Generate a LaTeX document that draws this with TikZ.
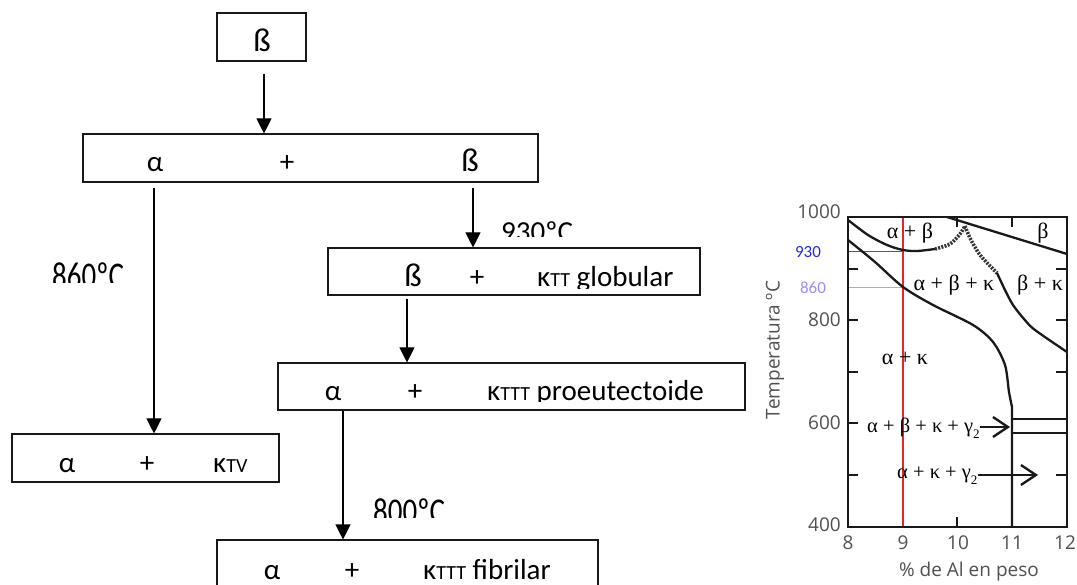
\documentclass[tikz,border=0pt]{standalone}
\usepackage{fontspec}
\setmainfont{Carlito}
\newfontfamily\grserif{Liberation Serif}
\newfontfamily\axsans{Open Sans}
\usetikzlibrary{arrows.meta,calc}
\newcommand{\smc}[1]{{\fontsize{20}{20}\selectfont #1}}
\newcommand{\subtwo}{\raisebox{-0.3em}{\fontsize{13}{13}\selectfont 2}}
\definecolor{axgray}{RGB}{80,80,80}
\definecolor{redline}{RGB}{225,40,40}
\definecolor{blueline}{RGB}{70,70,255}
\definecolor{bluetxt}{RGB}{40,40,220}
\definecolor{lavline}{RGB}{170,165,250}
\definecolor{lavtxt}{RGB}{160,140,240}
\begin{document}
\begin{tikzpicture}[x=1pt,y=-1pt,
  box/.style={draw=black!90, line width=1.1pt, inner sep=0pt},
  txt/.style={font=\fontsize{29}{29}\selectfont, inner sep=0pt},
  btxt/.style={font=\fontsize{33}{33}\selectfont, inner sep=0pt},
  arr/.style={line width=1.1pt, -{Triangle[length=15pt,width=15pt]}},
  pline/.style={line width=2.3pt, black!90},
  pdot/.style={line width=3.6pt, black!80, dash pattern=on 2pt off 1.3pt},
  ptick/.style={line width=2pt, black!90},
  plab/.style={font=\grserif\fontsize{22}{22}\selectfont, inner sep=0pt},
  plabs/.style={font=\grserif\fontsize{20.5}{20.5}\selectfont, inner sep=0pt},
  axnum/.style={font=\axsans\fontsize{19}{19}\selectfont, text=axgray, inner sep=0pt},
  parr/.style={line width=2.3pt, black!90, -{Straight Barb[length=15pt,width=20pt,line width=2.3pt]}}]
\useasboundingbox (0,0) rectangle (1077,585);
\clip (0,0) rectangle (1077,585);

% ---------- flowchart boxes ----------
\node[box, minimum width=89pt, minimum height=48pt] (b1) at (261.5,37) {};
\node[box, minimum width=455pt, minimum height=48pt] (b2) at (310.5,158) {};
\node[box, minimum width=372pt, minimum height=47pt] (b3) at (514,271.5) {};
\node[box, minimum width=467pt, minimum height=47pt] (b4) at (511.5,386.5) {};
\node[box, minimum width=267pt, minimum height=48pt] (b5) at (145.5,458) {};
\node[box, minimum width=381pt, minimum height=50pt] (b6) at (407.5,565) {};

% ---------- box texts ----------
\node[btxt, anchor=base] (t1) at (262,52) {ß};
\node[txt, anchor=base] (t2a) at (155,172) {α};
\node[txt, anchor=base] (t2p) at (287,172) {+};
\node[btxt, anchor=base] (t2b) at (470,172) {ß};
\node[btxt, anchor=base] (t3b) at (413,287) {ß};
\node[txt, anchor=base] (t3p) at (477,287) {+};
\begin{scope}
  \clip (530,230) rectangle (700,288.5);
  \node[txt, anchor=base west] (t3k) at (537,287) {κ\smc{TT} globular};
\end{scope}
\node[txt, anchor=base] (t4a) at (333,400) {α};
\node[txt, anchor=base] (t4p) at (415,400) {+};
\begin{scope}
  \clip (480,345) rectangle (744,401.5);
  \node[txt, anchor=base west] (t4k) at (487,400) {κ\smc{TTT} proeutectoide};
\end{scope}
\node[txt, anchor=base] (t5a) at (67,472) {α};
\node[txt, anchor=base] (t5p) at (147,472) {+};
\node[txt, anchor=base west] (t5k) at (213,472) {κ\smc{TV}};
\node[txt, anchor=base] (t6a) at (272,579) {α};
\node[txt, anchor=base] (t6p) at (352,579) {+};
\node[txt, anchor=base west] (t6k) at (423,579) {κ\smc{TTT} fibrilar};

% ---------- temperature labels (clipped) ----------
\begin{scope}
  \clip (495,210) rectangle (590,237);
  \node[txt, anchor=base west] (l930) at (501,242) {930ºC};
\end{scope}
\begin{scope}
  \clip (45,250) rectangle (135,283);
  \node[txt, anchor=base west, yscale=1.3] (l860) at (52,289) {860ºC};
\end{scope}
\begin{scope}
  \clip (365,485) rectangle (455,517);
  \node[txt, anchor=base west, yscale=1.25] (l800) at (373,523) {800ºC};
\end{scope}

% ---------- connectors ----------
\draw[arr] ($(b1.south)+(2.5,12)$) -- ($(b1.south |- b2.north)+(2.5,0)$);
\draw[arr] ($(t2a |- b2.south)+(-1,5)$) -- ($(t2a |- b5.north)+(-1,0)$);
\draw[arr] ($(t2b |- b2.south)+(3,5)$) -- ($(t2b |- b3.north)+(3,0)$);
\draw[arr] ($(t3b |- b3.south)+(-6,3)$) -- ($(t3b |- b4.north)+(-6,0)$);
\draw[arr] ($(t4a |- b4.south)+(10,0)$) -- ($(t4a |- b6.north)+(10,0)$);

% ---------- phase diagram ----------
\draw[redline, line width=1.2pt] (903,217) -- (903,527);
\draw[blueline, line width=1pt] (848,252) -- (903,252);
\draw[lavline, line width=1pt] (848,288) -- (903,288);

\draw[pline] plot[smooth] coordinates {(848,220) (868,235) (887,245) (903,250) (917,251) (935,249)};
\draw[pdot] plot[smooth] coordinates {(935,249) (950,244) (960,234) (965,226)};
\draw[pdot] plot[smooth] coordinates {(965,226) (970,238) (980,255) (997,273)};
\draw[pline] plot[smooth] coordinates {(997,273) (1005,290) (1013,305) (1024,319) (1035,330) (1067,352)};
\draw[pline] (947,217) -- (1067,254);
\draw[pline] plot[smooth] coordinates {(848,240) (875,262) (903,287) (933,305) (973,325) (993,342) (1005,365) (1009,392) (1012,407)} -- (1012,527);
\draw[pline] (1012,419) -- (1067,419);
\draw[pline] (1012,433) -- (1067,433);

\foreach \yy in {269,320,372,423,475} {\draw[ptick] (848,\yy) -- (858,\yy);}
\foreach \yy in {269,320,372,475} {\draw[ptick] (1067,\yy) -- (1056,\yy);}
\foreach \xx in {957,1012} {\draw[ptick] (\xx,217) -- (\xx,227);}
\foreach \xx in {957} {\draw[ptick] (\xx,527) -- (\xx,517);}
\draw[line width=2.2pt, black!90] (848,217) rectangle (1067,527);

% phase labels
\node[plab] (p1) at (910,233) {α + β};
\node[plab] (p2) at (1043,233) {β};
\node[plab] (p3) at (954,285) {α + β + κ};
\node[plab] (p4) at (1040,285) {β + κ};
\node[plab] (p5) at (905,358) {α + κ};
\node[plabs, anchor=west] (p6) at (867,428) {α + β + κ + γ\subtwo};
\node[plabs, anchor=west] (p7) at (897,476) {α + κ + γ\subtwo};
\coordinate (a6) at (1010,427);
\coordinate (a7) at (1038,475);
\draw[parr] (p6.east |- a6) -- (a6);
\draw[parr] (p7.east |- a7) -- (a7);

% axis numbers
\node[axnum, anchor=east] (y1000) at (841,212) {1000};
\node[axnum, anchor=east] (y800) at (841,320) {800};
\node[axnum, anchor=east] (y600) at (841,423) {600};
\node[axnum, anchor=east] (y400) at (841,525) {400};
\node[axnum] (x8) at (848,543) {8};
\node[axnum] (x9) at (903,543) {9};
\node[axnum] (x10) at (958,543) {10};
\node[axnum] (x11) at (1012,543) {11};
\node[axnum] (x12) at (1065,543) {12};
\node[axnum] (xlab) at (969,572) {\% de Al en peso};
\node[axnum, rotate=90] (ylab) at (775,350) {Temperatura ºC};
\node[font=\fontsize{17}{17}\selectfont, text=bluetxt, inner sep=0pt] (n930) at (808,252) {930};
\node[font=\fontsize{17}{17}\selectfont, text=lavtxt, inner sep=0pt] (n860) at (813,288) {860};
\end{tikzpicture}
\end{document}
